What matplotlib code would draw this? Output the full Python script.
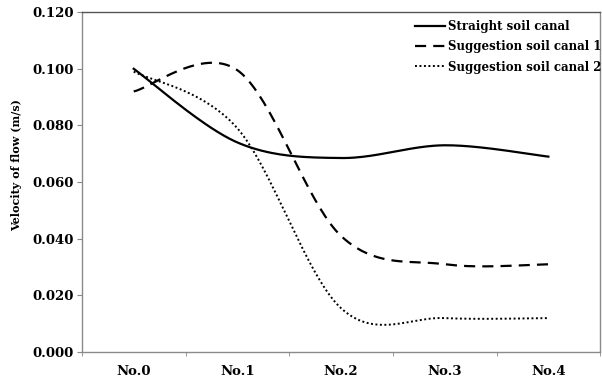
import numpy as np
import matplotlib
matplotlib.use("Agg")
import matplotlib.pyplot as plt
from matplotlib.ticker import FormatStrFormatter

sections = ["No.0", "No.1", "No.2", "No.3", "No.4"]
straight = [0.100, 0.074, 0.0685, 0.073, 0.069]
suggestion1 = [0.092, 0.0995, 0.041, 0.031, 0.031]
suggestion2 = [0.099, 0.079, 0.0155, 0.012, 0.012]


def smooth(xs, ys, n=40):
    # spreadsheet-style smoothed line: cubic bezier through each point,
    # control points taken from the neighbouring points (1/6 tension)
    p = np.column_stack([xs, ys]).astype(float)
    ext = np.vstack([p[0], p, p[-1]])
    out = []
    t = np.linspace(0, 1, n)[:, None]
    for i in range(len(p) - 1):
        p0 = ext[i + 1]
        p3 = ext[i + 2]
        c1 = p0 + (ext[i + 2] - ext[i]) / 6
        c2 = p3 - (ext[i + 3] - ext[i + 1]) / 6
        seg = ((1 - t) ** 3 * p0 + 3 * (1 - t) ** 2 * t * c1
               + 3 * (1 - t) * t ** 2 * c2 + t ** 3 * p3)
        out.append(seg if i == 0 else seg[1:])
    seg = np.vstack(out)
    return seg[:, 0], seg[:, 1]


plt.rcParams["font.family"] = ["DejaVu Serif"]
plt.rcParams["font.weight"] = "bold"

fig = plt.figure(figsize=(6.02, 3.79), dpi=100)
ax = fig.add_axes([0.136, 0.071, 0.861, 0.897])

x = np.arange(len(sections))
ax.plot(*smooth(x, straight), color="black", lw=1.6, ls="-",
        label="Straight soil canal")
ax.plot(*smooth(x, suggestion1), color="black", lw=1.6, ls=(0, (5, 3.2)),
        label="Suggestion soil canal 1")
ax.plot(*smooth(x, suggestion2), color="black", lw=1.4, ls=(0, (1, 1.3)),
        label="Suggestion soil canal 2")

ax.set_xlim(-0.5, len(sections) - 0.5)
ax.set_ylim(0, 0.12)
ax.set_yticks(np.arange(0, 0.1201, 0.02))
ax.yaxis.set_major_formatter(FormatStrFormatter("%.3f"))
ax.set_xticks(x)
ax.set_xticklabels(sections)
ax.set_xticks(np.arange(-0.5, len(sections)), minor=True)
ax.tick_params(axis="x", which="major", length=0, pad=9, labelsize=9.5)
ax.tick_params(axis="x", which="minor", length=2.9, direction="out",
               color="#888888")
ax.tick_params(axis="y", length=3.6, direction="out", color="#888888",
               labelsize=9.5, pad=2.5)

for side in ["left", "bottom", "right"]:
    ax.spines[side].set_color("#8a8a8a")
ax.spines["top"].set_color("#555555")
for s in ax.spines.values():
    s.set_linewidth(1.0)

ax.set_ylabel("Velocity of flow (m/s)", fontsize=8, fontweight="bold")
ax.yaxis.set_label_coords(-0.116, 0.55)

ax.legend(loc="upper right", frameon=False, fontsize=8.5,
          handlelength=2.6, handletextpad=0.2, labelspacing=0.6,
          borderaxespad=0.3, bbox_to_anchor=(1.018, 1.0))

fig.savefig("out.png", dpi=100)
